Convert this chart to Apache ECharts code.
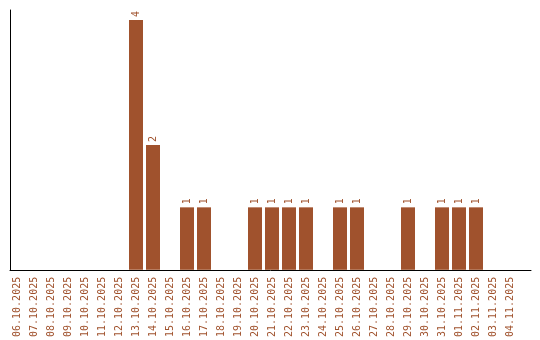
<!DOCTYPE html>
<html>
<head>
<meta charset="utf-8">
<script src="https://cdn.jsdelivr.net/npm/echarts@6/dist/echarts.min.js"></script>
<style>html,body{margin:0;padding:0;background:#fff}#c{width:540px;height:340px}</style>
</head>
<body>
<div id="c"></div>
<script>
var categories = ["06.10.2025","07.10.2025","08.10.2025","09.10.2025","10.10.2025","11.10.2025","12.10.2025","13.10.2025","14.10.2025","15.10.2025","16.10.2025","17.10.2025","18.10.2025","19.10.2025","20.10.2025","21.10.2025","22.10.2025","23.10.2025","24.10.2025","25.10.2025","26.10.2025","27.10.2025","28.10.2025","29.10.2025","30.10.2025","31.10.2025","01.11.2025","02.11.2025","03.11.2025","04.11.2025"];
var values = [0,0,0,0,0,0,0,4,2,0,1,1,0,0,1,1,1,1,0,1,1,0,0,1,0,1,1,1,0,0];
var color = '#A0522D';
var chart = echarts.init(document.getElementById('c'));
chart.setOption({
  animation: false,
  grid: [
    {left: 8.5, right: 21.5, top: 10, bottom: 70},
    {left: 10, right: 9, top: 10, bottom: 70}
  ],
  xAxis: [
    {
      type: 'category', gridIndex: 0, data: categories,
      axisLine: {show: false}, axisTick: {show: false},
      axisLabel: {interval: 0, rotate: 90, margin: 7, color: color, fontFamily: 'DejaVu Sans Mono', fontSize: 10}
    },
    {
      type: 'value', gridIndex: 1, min: 0, max: 1,
      axisLine: {show: true, lineStyle: {color: '#000', width: 1}},
      axisTick: {show: false}, axisLabel: {show: false}, splitLine: {show: false}
    }
  ],
  yAxis: [
    {type: 'value', gridIndex: 0, min: 0, max: 4.16, axisLine: {show: false}, axisTick: {show: false}, axisLabel: {show: false}, splitLine: {show: false}},
    {type: 'value', gridIndex: 1, min: 0, max: 1,
      axisLine: {show: true, lineStyle: {color: '#000', width: 1}},
      axisTick: {show: false}, axisLabel: {show: false}, splitLine: {show: false}}
  ],
  series: [{
    type: 'bar', xAxisIndex: 0, yAxisIndex: 0, data: values, barWidth: 14,
    itemStyle: {color: color},
    label: {
      show: true, position: 'top', rotate: 90, align: 'left', verticalAlign: 'middle', distance: 3,
      color: color, fontFamily: 'DejaVu Sans Mono', fontSize: 10,
      formatter: function (p) { return p.value ? String(p.value) : ''; }
    }
  }]
});
</script>
</body>
</html>
